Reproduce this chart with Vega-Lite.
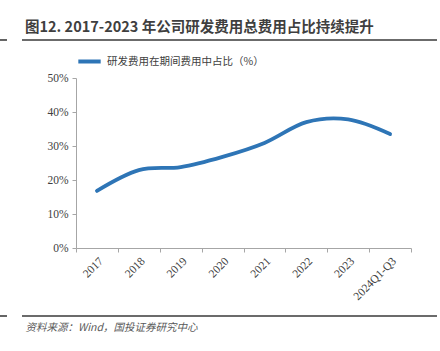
{
  "$schema": "https://vega.github.io/schema/vega-lite/v6.json",
  "width": 335,
  "height": 170,
  "autosize": {"type": "none"},
  "padding": {"left": 76, "top": 78, "right": 29, "bottom": 103},
  "background": "white",
  "config": {"view": {"stroke": null}, "font": "Liberation Serif"},
  "title": {
    "text": "图12. 2017-2023 年公司研发费用总费用占比持续提升",
    "font": "Noto Sans CJK SC",
    "fontSize": 14.5,
    "fontWeight": "bold",
    "color": "#3f3f3f",
    "anchor": "start",
    "frame": "group",
    "dx": -51,
    "dy": 0,
    "orient": "top"
  },
  "layer": [
    {
      "data": {"values": [
        {"year": "2017", "ratio": 0.168},
        {"year": "2018", "ratio": 0.229},
        {"year": "2019", "ratio": 0.238},
        {"year": "2020", "ratio": 0.268},
        {"year": "2021", "ratio": 0.309},
        {"year": "2022", "ratio": 0.37},
        {"year": "2023", "ratio": 0.378},
        {"year": "2024Q1-Q3", "ratio": 0.335}
      ]},
      "mark": {"type": "line", "interpolate": "cardinal", "tension": 0, "strokeWidth": 3.8, "strokeCap": "round"},
      "encoding": {
        "x": {
          "field": "year", "type": "ordinal", "sort": null,
          "scale": {"paddingInner": 0, "paddingOuter": 0},
          "axis": {
            "tickBand": "extent",
            "labelAngle": -45, "labelAlign": "right", "labelBaseline": "top",
            "labelFont": "Liberation Serif", "labelFontSize": 11.5, "labelColor": "#404040",
            "labelPadding": 3, "labelOverlap": false,
            "domain": true, "domainColor": "#a6a6a6", "tickColor": "#a6a6a6", "tickSize": 4,
            "title": "资料来源：Wind，国投证券研究中心",
            "titleFont": "Noto Sans CJK SC", "titleFontSize": 10.5, "titleFontStyle": "italic",
            "titleFontWeight": "normal", "titleColor": "#595959",
            "titleAnchor": "start", "titleAlign": "left", "titleBaseline": "alphabetic",
            "titleX": -51, "titleY": 82
          }
        },
        "y": {
          "field": "ratio", "type": "quantitative",
          "scale": {"domain": [0, 0.5], "nice": false},
          "axis": {
            "values": [0, 0.1, 0.2, 0.3, 0.4, 0.5], "format": ".0%", "grid": false,
            "labelOverlap": false, "labelFlush": false,
            "labelFont": "Liberation Serif", "labelFontSize": 11.5, "labelColor": "#404040",
            "domain": true, "domainColor": "#a6a6a6", "tickColor": "#a6a6a6", "tickSize": 4, "labelPadding": 4,
            "title": null
          }
        },
        "color": {
          "datum": "研发费用在期间费用中占比（%）",
          "scale": {"range": ["#2E75B6"]},
          "legend": {
            "orient": "top", "direction": "horizontal", "title": null,
            "symbolType": "stroke", "symbolStrokeWidth": 4, "symbolSize": 500,
            "labelFont": "Noto Sans CJK SC", "labelFontSize": 10.5, "labelColor": "#404040",
            "offset": 8
          }
        }
      }
    },
    {
      "data": {"values": [{}]},
      "mark": {"type": "rect", "color": "#3a3a3a", "clip": false},
      "encoding": {
        "x": {"datum": -0.1612, "type": "quantitative", "scale": {"domain": [0, 1], "nice": false, "zero": false}, "axis": null},
        "x2": {"datum": 1.0776},
        "y": {"datum": 0.6095, "type": "quantitative", "axis": null},
        "y2": {"datum": 0.6141}
      }
    },
    {
      "data": {"values": [{}]},
      "mark": {"type": "rect", "color": "#3a3a3a", "clip": false},
      "encoding": {
        "x": {"datum": -0.2269, "type": "quantitative", "scale": {"domain": [0, 1], "nice": false, "zero": false}, "axis": null},
        "x2": {"datum": -0.206},
        "y": {"datum": 0.6095, "type": "quantitative", "axis": null},
        "y2": {"datum": 0.6141}
      }
    },
    {
      "data": {"values": [{}]},
      "mark": {"type": "rect", "color": "#3a3a3a", "clip": false},
      "encoding": {
        "x": {"datum": -0.1612, "type": "quantitative", "scale": {"domain": [0, 1], "nice": false, "zero": false}, "axis": null},
        "x2": {"datum": 1.0776},
        "y": {"datum": -0.1977, "type": "quantitative", "axis": null},
        "y2": {"datum": -0.2023}
      }
    },
    {
      "data": {"values": [{}]},
      "mark": {"type": "rect", "color": "#3a3a3a", "clip": false},
      "encoding": {
        "x": {"datum": -0.2269, "type": "quantitative", "scale": {"domain": [0, 1], "nice": false, "zero": false}, "axis": null},
        "x2": {"datum": -0.206},
        "y": {"datum": -0.1977, "type": "quantitative", "axis": null},
        "y2": {"datum": -0.2023}
      }
    }
  ],
  "resolve": {"scale": {"x": "independent"}, "axis": {"x": "independent", "y": "independent"}}
}
